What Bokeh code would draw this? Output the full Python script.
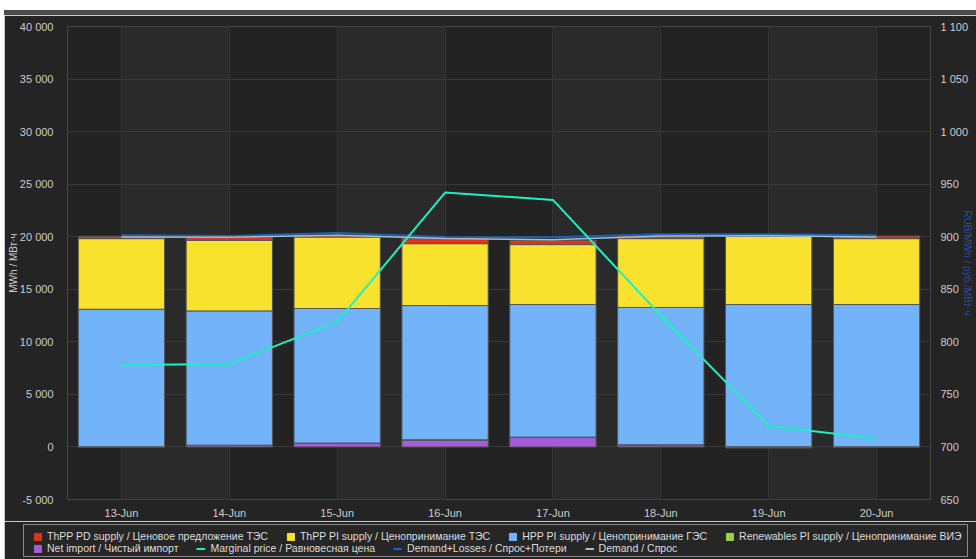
import numpy as np
from bokeh.plotting import figure
from bokeh.models import (Range1d, LinearAxis, FixedTicker, Legend, LegendItem,
                          Div, FactorRange)
from bokeh.layouts import column, row
from bokeh.embed import file_html
from bokeh.resources import INLINE

# ---------------- data ----------------
dates = ["13-Jun", "14-Jun", "15-Jun", "16-Jun", "17-Jun", "18-Jun", "19-Jun", "20-Jun"]

thpp_pd = [220, 310, 130, 480, 410, 250, 40, 250]
thpp_pi = [6720, 6720, 6800, 5890, 5700, 6550, 6490, 6270]
hpp_pi = [13080, 12770, 12800, 12770, 12610, 13060, 13530, 13530]
renew_pi = [20, 20, 20, 20, 20, 20, 20, 20]
net_import = [0, 150, 350, 660, 920, 190, -100, 0]

price = [778, 779, 819, 942, 935, 825, 720, 708]
demand_losses = [20130, 20080, 20350, 19970, 19950, 20230, 20230, 20130]
demand = [19970, 19950, 20130, 19820, 19720, 20070, 20100, 19970]

left_ticks = [-5000, 0, 5000, 10000, 15000, 20000, 25000, 30000, 35000, 40000]
left_tick_labels = ["-5 000", "0", "5 000", "10 000", "15 000", "20 000",
                    "25 000", "30 000", "35 000", "40 000"]
right_ticks = [650, 700, 750, 800, 850, 900, 950, 1000, 1050, 1100]
right_tick_labels = ["650", "700", "750", "800", "850", "900", "950",
                     "1 000", "1 050", "1 100"]

names = {
    "pd": "ThPP PD supply / Ценовое предложение ТЭС",
    "pi": "ThPP PI supply / Ценопринимание ТЭС",
    "hpp": "HPP PI supply / Ценопринимание ГЭС",
    "ren": "Renewables PI supply / Ценопринимание ВИЭ",
    "imp": "Net import / Чистый импорт",
    "price": "Marginal price / Равновесная цена",
    "dl": "Demand+Losses / Спрос+Потери",
    "dem": "Demand / Спрос",
}

colors = {
    "imp": "#a65bd9", "ren": "#9dcf47", "hpp": "#72b3f9", "pi": "#f8e22e",
    "pd": "#e0331f", "price": "#1ff0c0", "dl": "#1565c0", "dem": "#b8b8b8",
}

# ---------------- styles ----------------
FONT = "Liberation Sans"
TXT = "#cccccc"
BG = "#232323"
BORDER_BG = "#242424"


def style_axis(ax, standoff):
    ax.axis_line_color = None
    ax.major_tick_line_color = None
    ax.minor_tick_line_color = None
    ax.major_tick_out = 0
    ax.major_tick_in = 0
    ax.minor_tick_out = 0
    ax.minor_tick_in = 0
    ax.major_label_standoff = standoff
    ax.major_label_text_color = TXT
    ax.major_label_text_font = FONT
    ax.major_label_text_font_size = "11px"
    ax.axis_label_text_font = FONT
    ax.axis_label_text_font_size = "10px"
    ax.axis_label_text_font_style = "normal"


p = figure(width=972, height=506, x_range=FactorRange(factors=dates),
           y_range=Range1d(-5000, 40000), output_backend="svg",
           toolbar_location=None,
           min_border_left=63, min_border_right=46, min_border_top=11,
           min_border_bottom=21)
p.margin = (0, 0, 0, 4)
p.background_fill_color = BG
p.border_fill_color = BORDER_BG
p.outline_line_color = "#474747"
p.outline_line_width = 1

p.xgrid.grid_line_color = "#333333"
p.xgrid.band_fill_color = "#2a2a2a"
p.xgrid.band_fill_alpha = 1.0
p.ygrid.grid_line_color = "#3a3a3a"
p.ygrid.ticker = FixedTicker(ticks=left_ticks)

# left axis
ya = p.yaxis[0]
ya.ticker = FixedTicker(ticks=left_ticks)
ya.major_label_overrides = {t: l for t, l in zip(left_ticks, left_tick_labels)}
style_axis(ya, 14)
ya.axis_label = "MWh / МВт·ч"
ya.axis_label_text_color = TXT
ya.axis_label_standoff = -2

# x axis
xa = p.xaxis[0]
style_axis(xa, 7)

# right axis
p.extra_y_ranges = {"price": Range1d(650, 1100)}
ra = LinearAxis(y_range_name="price")
ra.ticker = FixedTicker(ticks=right_ticks)
ra.major_label_overrides = {t: l for t, l in zip(right_ticks, right_tick_labels)}
style_axis(ra, 10)
ra.axis_label = "RUB/MWh / руб./МВт·ч"
ra.axis_label_text_color = "#2a4a9a"
ra.axis_label_standoff = -9
p.add_layout(ra, "right")

# ---------------- stacked bars ----------------
series_vals = {"imp": net_import, "ren": renew_pi, "hpp": hpp_pi,
               "pi": thpp_pi, "pd": thpp_pd}
pos = np.zeros(len(dates))
neg = np.zeros(len(dates))
for key in ["imp", "ren", "hpp", "pi", "pd"]:
    v = np.array(series_vals[key], dtype=float)
    bottom = np.where(v >= 0, pos, neg)
    top = bottom + v
    pos = np.where(v >= 0, top, pos)
    neg = np.where(v < 0, top, neg)
    p.vbar(x=dates, bottom=bottom, top=top, width=0.8,
           fill_color=colors[key], line_color="#555555", line_width=1)

# ---------------- lines ----------------
p.line(dates, demand_losses, line_color=colors["dl"], line_width=2)
p.line(dates, demand, line_color=colors["dem"], line_width=1.5)
p.line(dates, price, line_color=colors["price"], line_width=2, y_range_name="price")

# ---------------- legend panel ----------------
lg = figure(width=972, height=38, x_range=FactorRange(factors=dates),
            y_range=Range1d(0, 1), x_axis_type=None, y_axis_type=None,
            output_backend="svg", toolbar_location=None,
            min_border_left=19, min_border_right=9,
            min_border_top=3, min_border_bottom=3)
lg.margin = (0, 0, 0, 4)
lg.grid.visible = False
lg.background_fill_color = "#262626"
lg.border_fill_color = BORDER_BG
lg.outline_line_color = "#8a8a8a"
lg.outline_line_width = 1

# hidden copies of the series, used only to draw the legend swatches
swatch = {}
for k in ["pd", "pi", "hpp", "ren", "imp"]:
    swatch[k] = lg.vbar(x=dates, top=series_vals[k], width=0.8,
                        fill_color=colors[k], line_color=colors[k], visible=False)
swatch["price"] = lg.line(dates, price, line_color=colors["price"], line_width=2, visible=False)
swatch["dl"] = lg.line(dates, demand_losses, line_color=colors["dl"], line_width=2, visible=False)
swatch["dem"] = lg.line(dates, demand, line_color=colors["dem"], line_width=2, visible=False)


def make_legend(keys, loc):
    return Legend(items=[LegendItem(label=names[k], renderers=[swatch[k]]) for k in keys],
                  location=loc, orientation="horizontal",
                  background_fill_alpha=0, border_line_color=None,
                  padding=0, margin=0, spacing=18, label_standoff=5,
                  glyph_width=9, glyph_height=9, label_height=12,
                  label_text_font=FONT, label_text_font_size="10.5px",
                  label_text_color="#dddddd")


lg.add_layout(make_legend(["pd", "pi", "hpp", "ren"], (10, 14)))
lg.add_layout(make_legend(["imp", "price", "dl", "dem"], (10, 2)))

strip = Div(text="", width=972, height=5, margin=(10, 0, 0, 4),
            styles={"background-color": "#4b4b4b"})

layout = column(strip, p, row(lg), spacing=0)
open("out.html", "w").write(file_html(layout, INLINE))
